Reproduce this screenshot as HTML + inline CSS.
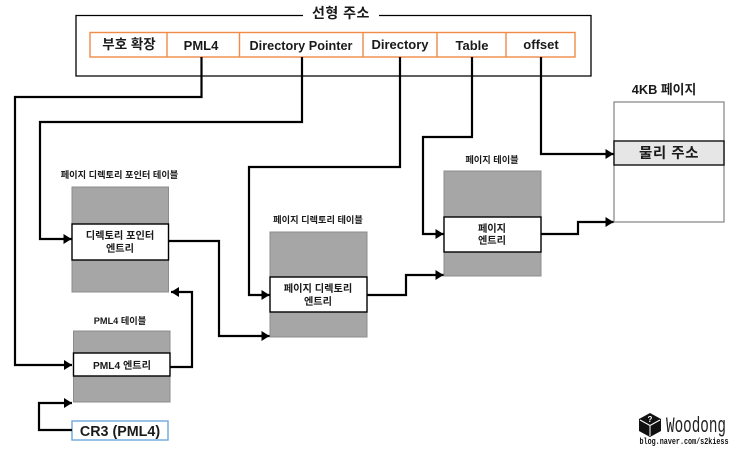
<!DOCTYPE html>
<html>
<head>
<meta charset="utf-8">
<style>
html,body{margin:0;padding:0;background:#fff}
svg{display:block;filter:blur(0.3px)}
text{font-family:"Liberation Sans","Noto Sans CJK KR",sans-serif;fill:#1a1a1a;text-anchor:middle;font-weight:700}
.w{fill:none;stroke:#000;stroke-width:2.2}
.t{fill:#a6a6a6;stroke:#8c8c8c;stroke-width:1}
.e{fill:#fff;stroke:#000;stroke-width:1.4}
.o{fill:#fff;stroke:#f08c46;stroke-width:1.4}
</style>
</head>
<body>
<svg width="740" height="450" viewBox="0 0 740 450" xmlns="http://www.w3.org/2000/svg">
<defs>
<marker id="a" markerUnits="userSpaceOnUse" markerWidth="9" markerHeight="10" refX="8" refY="5" orient="auto">
<path d="M0 0L8 5L0 10Z" fill="#000"/>
</marker>
</defs>

<!-- linear address frame -->
<path d="M303 15.500H76V76H591V15.500H379" fill="none" stroke="#000" stroke-width="1.3"/>
<text x="341" y="18" font-size="14" letter-spacing="0.5">선형 주소</text>

<rect class="o" x="90" y="32.500" width="485" height="24.500"/>
<path d="M167 32.500V57M239.500 32.500V57M363 32.500V57M437 32.500V57M506 32.500V57" stroke="#f08c46" stroke-width="1.4"/>
<text x="129" y="49" font-size="13.500">부호 확장</text>
<text x="201" y="50" font-size="13">PML4</text>
<text x="301" y="50" font-size="13" textLength="103" lengthAdjust="spacingAndGlyphs">Directory Pointer</text>
<text x="400" y="49" font-size="13">Directory</text>
<text x="472" y="50" font-size="13">Table</text>
<text x="541" y="49" font-size="13">offset</text>

<!-- tables -->
<rect class="t" x="72" y="187" width="96.500" height="105"/>
<rect class="e" x="72" y="224" width="96.500" height="36"/>
<text x="120" y="239" font-size="10.200">디렉토리 포인터</text>
<text x="120" y="252" font-size="10.200">엔트리</text>
<text x="119.500" y="178" font-size="9.200">페이지 디렉토리 포인터 테이블</text>

<rect class="t" x="73.500" y="331" width="96.500" height="71"/>
<rect class="e" x="73.500" y="353" width="96.500" height="23"/>
<text x="122" y="369" font-size="10.200">PML4 엔트리</text>
<text x="120" y="324" font-size="9.200">PML4 테이블</text>

<rect x="72" y="421" width="96" height="19" fill="#fff" stroke="#6fa8dc" stroke-width="1.4"/>
<text x="120" y="436" font-size="14.300">CR3 (PML4)</text>

<rect class="t" x="270" y="232" width="97" height="105"/>
<rect class="e" x="270" y="277" width="97" height="35"/>
<text x="318" y="292" font-size="10.200">페이지 디렉토리</text>
<text x="318" y="305" font-size="10.200">엔트리</text>
<text x="318" y="223" font-size="9.200">페이지 디렉토리 테이블</text>

<rect class="t" x="444" y="171" width="97" height="105"/>
<rect class="e" x="444" y="217" width="97" height="35"/>
<text x="492" y="232" font-size="10.200">페이지</text>
<text x="492" y="244" font-size="10.200">엔트리</text>
<text x="492" y="163" font-size="9.200">페이지 테이블</text>

<!-- 4KB page -->
<rect x="614" y="102" width="110" height="120" fill="#fff" stroke="#8c8c8c" stroke-width="1.3"/>
<rect x="614" y="141" width="110" height="24" fill="#e6e6e6" stroke="#111" stroke-width="1.4"/>
<text x="669" y="158" font-size="14.500" letter-spacing="0.5">물리 주소</text>
<text x="664" y="94" font-size="12.800">4KB 페이지</text>

<!-- connectors -->
<path class="w" d="M201.500 57V97H15V365H72" marker-end="url(#a)"/>
<path class="w" d="M302 57V122H40V239H71.500" marker-end="url(#a)"/>
<path class="w" d="M400 57V167H249V295H269.500" marker-end="url(#a)"/>
<path class="w" d="M472 57V137H423V234H443.500" marker-end="url(#a)"/>
<path class="w" d="M541 57V154H613.500" marker-end="url(#a)"/>
<path class="w" d="M72 430H39V403H72" marker-end="url(#a)"/>
<path class="w" d="M170 367H192V292H171" marker-end="url(#a)"/>
<path class="w" d="M168.500 241H219V336H269.500" marker-end="url(#a)"/>
<path class="w" d="M367 295H406V275H443.500" marker-end="url(#a)"/>
<path class="w" d="M541 234H578V222H613.500" marker-end="url(#a)"/>

<!-- logo -->
<path d="M650 413L661 419V431L650 437L639 431V419Z" fill="#111"/>
<path d="M640 420L650 425.500L660 420M650 425.500V436" fill="none" stroke="#fff" stroke-width="1"/>
<text x="650" y="422" font-size="8" style="fill:#fff">?</text>
<text x="696" y="432" font-size="22" textLength="60" lengthAdjust="spacingAndGlyphs" style="font-weight:400;fill:#222;font-family:'Liberation Mono',monospace">Woodong</text>
<text x="684" y="444" font-size="9" textLength="89" lengthAdjust="spacingAndGlyphs" style="font-family:'Liberation Mono',monospace;fill:#111">blog.naver.com/s2kiess</text>
</svg>
</body>
</html>
